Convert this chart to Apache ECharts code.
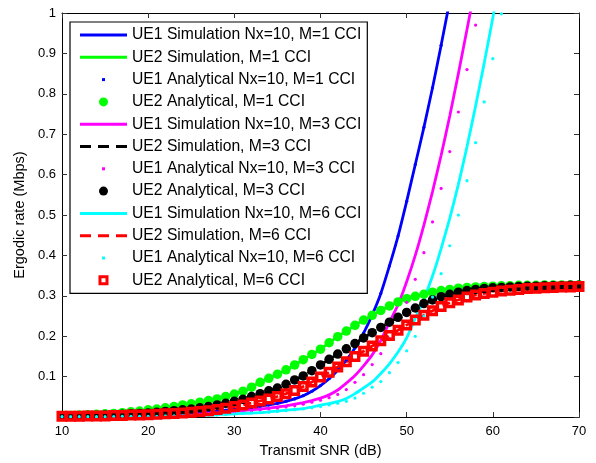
<!DOCTYPE html>
<html><head><meta charset="utf-8">
<script src="https://cdn.jsdelivr.net/npm/echarts@6/dist/echarts.min.js"></script>
<style>html,body{margin:0;padding:0;background:#fff}#c{width:596px;height:463px}</style>
</head><body><div id="c"></div>
<script>
// Transmit SNR (dB), one point per dB
const snr = [10,11,12,13,14,15,16,17,18,19,20,21,22,23,24,25,26,27,28,29,30,31,32,33,34,35,36,37,38,39,40,
  41,42,43,44,45,46,47,48,49,50,51,52,53,54,55,56,57,58,59,60,61,62,63,64,65,66,67,68,69,70];
const xTicks = [10,20,30,40,50,60,70];
const yTicks = [0.1,0.2,0.3,0.4,0.5,0.6,0.7,0.8,0.9,1];

// UE1, M=1 CCI (simulation and analytical coincide), 10..55 dB
const ue1M1 = [0.001,0.001,0.001,0.002,0.002,0.002,0.003,0.003,0.004,0.004,0.005,0.006,0.007,0.008,0.009,0.010,
  0.012,0.013,0.015,0.017,0.019,0.021,0.024,0.027,0.030,0.034,0.039,0.045,0.053,0.064,0.078,0.095,0.116,0.141,
  0.171,0.208,0.253,0.306,0.374,0.448,0.534,0.625,0.717,0.815,0.920,1.03];
// UE2, M=1 CCI, 10..70 dB
const ue2M1 = [0.004,0.004,0.005,0.006,0.007,0.008,0.009,0.011,0.013,0.015,0.018,0.020,0.023,0.026,0.030,0.033,
  0.037,0.041,0.045,0.051,0.057,0.064,0.074,0.086,0.096,0.106,0.117,0.129,0.142,0.155,0.168,0.184,0.199,0.213,
  0.227,0.240,0.252,0.264,0.275,0.285,0.293,0.299,0.304,0.309,0.313,0.316,0.319,0.321,0.322,0.323,0.324,0.325,
  0.325,0.326,0.326,0.326,0.327,0.327,0.327,0.327,0.327];
// UE1, M=3 CCI simulation, 10..58 dB
const ue1SimM3 = [0.001,0.001,0.001,0.002,0.002,0.002,0.002,0.003,0.003,0.003,0.004,0.004,0.005,0.006,0.007,0.008,
  0.009,0.010,0.011,0.012,0.014,0.016,0.018,0.020,0.022,0.025,0.028,0.032,0.036,0.041,0.047,0.055,0.067,0.084,
  0.103,0.127,0.154,0.190,0.235,0.278,0.335,0.400,0.475,0.558,0.648,0.745,0.850,0.959,1.07];
// UE1, M=3 CCI analytical, 10..59 dB
const ue1AnaM3 = [0.001,0.001,0.001,0.001,0.002,0.002,0.002,0.002,0.003,0.003,0.003,0.004,0.004,0.005,0.006,0.007,
  0.008,0.009,0.010,0.011,0.012,0.014,0.016,0.018,0.020,0.022,0.025,0.028,0.032,0.037,0.042,0.048,0.056,0.068,
  0.086,0.105,0.130,0.157,0.194,0.240,0.284,0.341,0.407,0.483,0.566,0.657,0.755,0.860,0.970,1.08];
// UE2, M=3 CCI, 10..70 dB
const ue2M3 = [0.003,0.003,0.003,0.004,0.004,0.005,0.006,0.007,0.008,0.009,0.010,0.012,0.014,0.016,0.018,0.020,
  0.023,0.026,0.030,0.034,0.039,0.044,0.051,0.058,0.065,0.072,0.081,0.092,0.102,0.115,0.129,0.143,0.156,0.169,
  0.182,0.196,0.209,0.222,0.235,0.247,0.259,0.270,0.281,0.290,0.298,0.304,0.309,0.313,0.316,0.318,0.320,0.321,
  0.322,0.323,0.324,0.324,0.325,0.325,0.325,0.326,0.326];
// UE1, M=6 CCI simulation, 10..61 dB
const ue1SimM6 = [0.001,0.001,0.001,0.001,0.001,0.001,0.002,0.002,0.002,0.002,0.002,0.003,0.003,0.003,0.004,0.004,
  0.005,0.005,0.006,0.007,0.008,0.009,0.010,0.011,0.013,0.015,0.017,0.019,0.021,0.025,0.0296,0.0336,0.0385,0.046,
  0.058,0.072,0.087,0.108,0.132,0.161,0.196,0.245,0.292,0.349,0.417,0.492,0.576,0.669,0.770,0.876,0.988,1.10];
// UE1, M=6 CCI analytical, 10..62 dB
const ue1AnaM6 = [0.001,0.001,0.001,0.001,0.001,0.001,0.001,0.002,0.002,0.002,0.002,0.002,0.003,0.003,0.003,0.004,
  0.004,0.005,0.005,0.006,0.008,0.009,0.010,0.011,0.012,0.014,0.016,0.018,0.020,0.023,0.026,0.030,0.034,0.039,
  0.047,0.059,0.074,0.088,0.110,0.135,0.164,0.200,0.250,0.297,0.355,0.424,0.500,0.585,0.679,0.780,0.887,0.998,1.12];
// UE2, M=6 CCI, 10..70 dB
const ue2M6 = [0.002,0.002,0.002,0.003,0.003,0.003,0.004,0.004,0.005,0.005,0.006,0.007,0.008,0.009,0.010,0.012,
  0.014,0.016,0.019,0.022,0.026,0.030,0.035,0.040,0.045,0.051,0.058,0.066,0.076,0.087,0.099,0.111,0.124,0.137,
  0.150,0.163,0.176,0.189,0.202,0.215,0.228,0.240,0.252,0.263,0.274,0.283,0.290,0.297,0.302,0.306,0.309,0.312,
  0.314,0.316,0.318,0.319,0.320,0.321,0.322,0.322,0.323];

const names = ['UE1 Simulation Nx=10, M=1 CCI','UE2 Simulation, M=1 CCI','UE1 Analytical Nx=10, M=1 CCI',
  'UE2 Analytical, M=1 CCI','UE1 Simulation Nx=10, M=3 CCI','UE2 Simulation, M=3 CCI',
  'UE1 Analytical Nx=10, M=3 CCI','UE2 Analytical, M=3 CCI','UE1 Simulation Nx=10, M=6 CCI',
  'UE2 Simulation, M=6 CCI','UE1 Analytical Nx=10, M=6 CCI','UE2 Analytical, M=6 CCI'];

const BLUE='#0000ff', GREEN='#00ff00', MAG='#ff00ff', BLACK='#000000', CYAN='#00ffff', RED='#ff0000';

function pairs(vals){ return vals.map((v,i)=>[snr[i], v]); }

function simLine(name, vals, color, dashed){
  return {type:'line', name, data:pairs(vals), symbol:'none', smooth:0.2, clip:true,
    lineStyle:{color, width:2.8, type: dashed ? [8,6] : 'solid'}, itemStyle:{color}, z:2};
}
function dots(name, vals, color, size){
  return {type:'scatter', name, data:pairs(vals), symbol:'circle', symbolSize:size, clip:true,
    itemStyle:{color, opacity:1}, z:2};
}

const series = [
  simLine(names[0], ue1M1, BLUE),
  simLine(names[1], ue2M1, GREEN),
  dots(names[2], ue1M1, BLUE, 3.2),
  dots(names[3], ue2M1, GREEN, 9.5),
  simLine(names[4], ue1SimM3, MAG),
  simLine(names[5], ue2M3, BLACK, true),
  dots(names[6], ue1AnaM3, MAG, 3.2),
  dots(names[7], ue2M3, BLACK, 9.5),
  simLine(names[8], ue1SimM6, CYAN),
  simLine(names[9], ue2M6, RED, true),
  dots(names[10], ue1AnaM6, CYAN, 3.2),
  {type:'scatter', name:names[11], data:pairs(ue2M6), symbol:'rect', symbolSize:7.5, clip:true,
    itemStyle:{color:'rgba(0,0,0,0)', borderColor:RED, borderWidth:3.5, opacity:1}, z:2}
];

const ICON_LINE = 'path://M0,5.5H47V8.5H0Z';
const ICON_DASH = 'path://M0,5.5H11V8.5H0Z M18,5.5H29V8.5H18Z M36,5.5H47V8.5H36Z';
const ICON_TINY = 'path://M0,0L0,0M47,14L47,14M22,5.5H25V8.5H22Z';
const ICON_DOT  = 'path://M0,0L0,0M47,14L47,14M28,7A4.5,4.5,0,1,1,19,7A4.5,4.5,0,1,1,28,7Z';
const ICON_SQ   = 'path://M0,0L0,0M47,14L47,14M18.5,2H28.5V12H18.5Z M21.5,5V9H25.5V5Z';
const legendIcons = [ICON_LINE,ICON_LINE,ICON_TINY,ICON_DOT,ICON_LINE,ICON_DASH,ICON_TINY,ICON_DOT,ICON_LINE,ICON_DASH,ICON_TINY,ICON_SQ];
const legendColors = [BLUE,GREEN,BLUE,GREEN,MAG,BLACK,MAG,BLACK,CYAN,RED,CYAN,RED];

const FONT = '"Liberation Sans", Arial, Helvetica, sans-serif';

const chart = echarts.init(document.getElementById('c'), null, {renderer:'canvas'});
chart.setOption({
  animation:false,
  backgroundColor:'#fff',
  grid:{left:62, right:17, top:13, bottom:42, containLabel:false},
  xAxis:[
    {type:'value', min:xTicks[0], max:xTicks[xTicks.length-1], interval:10, position:'bottom',
     name:'Transmit SNR (dB)', nameLocation:'middle', nameGap:24,
     nameTextStyle:{fontFamily:FONT, fontSize:14.5, color:'#000'},
     axisLine:{show:true, onZero:false, lineStyle:{color:'#000', width:1}},
     axisTick:{show:true, inside:true, length:5, lineStyle:{color:'#333'}},
     axisLabel:{show:true, margin:8, fontFamily:FONT, fontSize:13, color:'#000'},
     splitLine:{show:false}},
    {type:'value', min:xTicks[0], max:xTicks[xTicks.length-1], interval:10, position:'top',
     axisLine:{show:true, onZero:false, lineStyle:{color:'#000', width:1}},
     axisTick:{show:true, inside:true, length:5, lineStyle:{color:'#333'}},
     axisLabel:{show:false}, splitLine:{show:false}}
  ],
  yAxis:[
    {type:'value', min:0, max:yTicks[yTicks.length-1], interval:0.1, position:'left',
     name:'Ergodic rate (Mbps)', nameLocation:'middle', nameGap:34,
     nameTextStyle:{fontFamily:FONT, fontSize:14.5, color:'#000'},
     axisLine:{show:true, onZero:false, lineStyle:{color:'#000', width:1}},
     axisTick:{show:true, inside:true, length:5, lineStyle:{color:'#333'}},
     axisLabel:{show:true, margin:6, fontFamily:FONT, fontSize:13, color:'#000',
       formatter:v=>{ const r=Math.round(v*10)/10; return r===0 ? '' : String(r); }},
     splitLine:{show:false}},
    {type:'value', min:0, max:yTicks[yTicks.length-1], interval:0.1, position:'right',
     axisLine:{show:true, onZero:false, lineStyle:{color:'#000', width:1}},
     axisTick:{show:true, inside:true, length:5, lineStyle:{color:'#333'}},
     axisLabel:{show:false}, splitLine:{show:false}}
  ],
  legend:{
    show:true, orient:'vertical', left:70, top:22,
    padding:[5,6,5,10], itemGap:6.3, itemWidth:47, itemHeight:14,
    backgroundColor:'#fff', borderColor:'#000', borderWidth:1.2, borderRadius:0,
    selectedMode:false, symbolKeepAspect:true,
    itemStyle:{borderWidth:0},
    textStyle:{fontFamily:FONT, fontSize:15.7, color:'#000', lineHeight:16, padding:0},
    data: names.map((n,i)=>({name:n, icon:legendIcons[i], itemStyle:{color:legendColors[i], borderWidth:0}}))
  },
  series: series.map(s=>Object.assign(s,{xAxisIndex:0, yAxisIndex:0}))
});
</script></body></html>
